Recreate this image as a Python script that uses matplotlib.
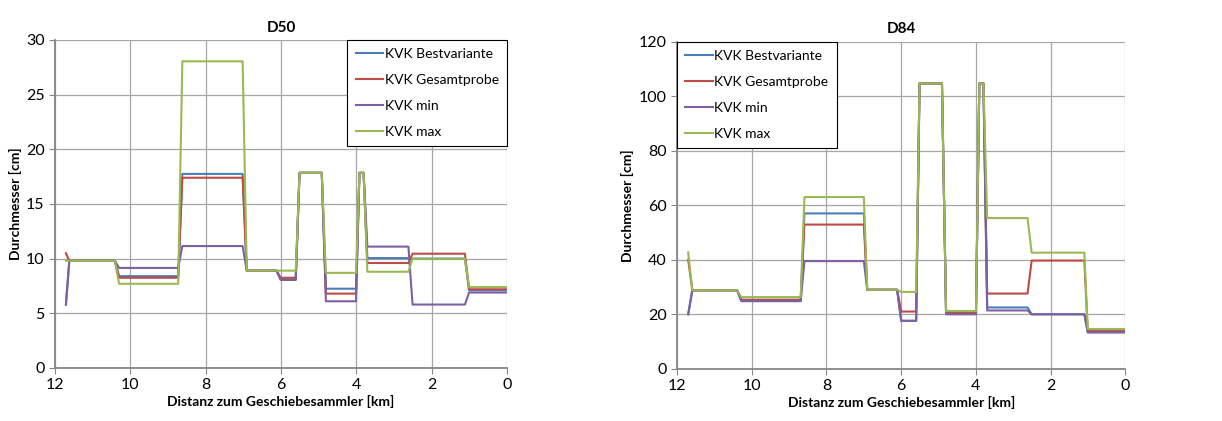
import numpy as np
import matplotlib
matplotlib.use("Agg")
import matplotlib.pyplot as plt

plt.rcParams['font.family'] = ['Lato', 'DejaVu Sans']

# D50 data (distance in km, diameter in cm)
km_d50 = [11.71, 11.62, 10.41, 10.30, 8.73, 8.62, 7.02, 6.91, 6.12, 6.01, 5.61, 5.51,
          4.92, 4.81, 4.01, 3.92, 3.81, 3.71, 2.62, 2.51, 1.12, 1.01, 0.0]
d50_best = [5.8, 9.8, 9.8, 8.4, 8.4, 17.75, 17.75, 8.9, 8.9, 8.1, 8.1, 17.85,
            17.85, 7.25, 7.25, 17.85, 17.85, 10.05, 10.05, 10.0, 10.0, 7.1, 7.1]
d50_gesamt = [10.5, 9.8, 9.8, 8.25, 8.25, 17.4, 17.4, 8.9, 8.9, 8.25, 8.25, 17.85,
              17.85, 6.8, 6.8, 17.85, 17.85, 9.6, 9.6, 10.45, 10.45, 7.2, 7.2]
d50_min = [5.8, 9.8, 9.8, 9.15, 9.15, 11.15, 11.15, 8.9, 8.9, 8.05, 8.05, 17.85,
           17.85, 6.1, 6.1, 17.85, 17.85, 11.1, 11.1, 5.8, 5.8, 6.9, 6.9]
d50_max = [9.8, 9.8, 9.8, 7.7, 7.7, 28.05, 28.05, 8.9, 8.9, 8.9, 8.9, 17.85,
           17.85, 8.7, 8.7, 17.85, 17.85, 8.8, 8.8, 10.0, 10.0, 7.4, 7.4]

# D84 data
km_d84 = [11.70, 11.59, 10.39, 10.28, 8.69, 8.59, 7.00, 6.91, 6.11, 6.00, 5.60, 5.51,
          4.91, 4.80, 4.00, 3.91, 3.80, 3.70, 2.62, 2.51, 1.10, 1.01, 0.0]
d84_best = [20.0, 28.8, 28.8, 25.3, 25.3, 57.0, 57.0, 29.0, 29.0, 17.6, 17.6, 104.7,
            104.7, 20.5, 20.5, 104.7, 104.7, 22.5, 22.5, 20.0, 20.0, 13.8, 13.8]
d84_gesamt = [40.0, 28.8, 28.8, 25.3, 25.3, 52.9, 52.9, 29.0, 29.0, 21.0, 21.0, 104.7,
              104.7, 20.5, 20.5, 104.7, 104.7, 27.6, 27.6, 39.7, 39.7, 14.0, 14.0]
d84_min = [20.0, 28.8, 28.8, 24.8, 24.8, 39.5, 39.5, 29.0, 29.0, 17.6, 17.6, 104.7,
           104.7, 20.0, 20.0, 104.7, 104.7, 21.4, 21.4, 20.0, 20.0, 13.3, 13.3]
d84_max = [42.7, 28.8, 28.8, 26.3, 26.3, 63.0, 63.0, 29.0, 29.0, 28.2, 28.2, 104.7,
           104.7, 21.2, 21.2, 104.7, 104.7, 55.3, 55.3, 42.6, 42.6, 14.6, 14.6]

labels = ['KVK Bestvariante', 'KVK Gesamtprobe', 'KVK min', 'KVK max']
colors = ['#4A7EBB', '#BE4B48', '#7D60A0', '#98B954']


def draw(ax, km, series, title, ymax, ystep, legend_loc):
    for vals, lab, col in zip(series, labels, colors):
        ax.plot(km, vals, color=col, lw=1.5, label=lab)
    ax.set_xlim(12, 0)
    ax.set_ylim(0, ymax)
    ax.set_xticks(np.arange(12, -1, -2))
    ax.set_yticks(np.arange(0, ymax + 1, ystep))
    ax.grid(True, color='#a6a6a6', lw=0.9)
    ax.set_axisbelow(True)
    for s in ['top', 'right']:
        ax.spines[s].set_visible(False)
    for s in ['left', 'bottom']:
        ax.spines[s].set_color('#868686')
        ax.spines[s].set_linewidth(1.3)
    ax.tick_params(colors='#868686', labelcolor='black', labelsize=11.5, length=4)
    ax.set_title(title, fontsize=11, fontweight='bold', pad=6)
    ax.set_xlabel('Distanz zum Geschiebesammler [km]', fontsize=10, fontweight='bold', labelpad=2)
    ax.set_ylabel('Durchmesser [cm]', fontsize=10, fontweight='bold', labelpad=3)
    leg = ax.legend(loc=legend_loc, fontsize=10, fancybox=False, framealpha=1,
                    edgecolor='black', borderaxespad=0, handlelength=2.0,
                    handletextpad=0.1, labelspacing=1.0, borderpad=0.6)
    leg.get_frame().set_linewidth(0.8)


fig = plt.figure(figsize=(12.22, 4.21), dpi=100)
ax1 = fig.add_axes([0.045, 0.126, 0.370, 0.779])
ax2 = fig.add_axes([0.554, 0.124, 0.367, 0.777])

draw(ax1, km_d50, [d50_best, d50_gesamt, d50_min, d50_max], 'D50', 30, 5, 'upper right')
draw(ax2, km_d84, [d84_best, d84_gesamt, d84_min, d84_max], 'D84', 120, 20, 'upper left')

fig.savefig('out.png', dpi=100)
